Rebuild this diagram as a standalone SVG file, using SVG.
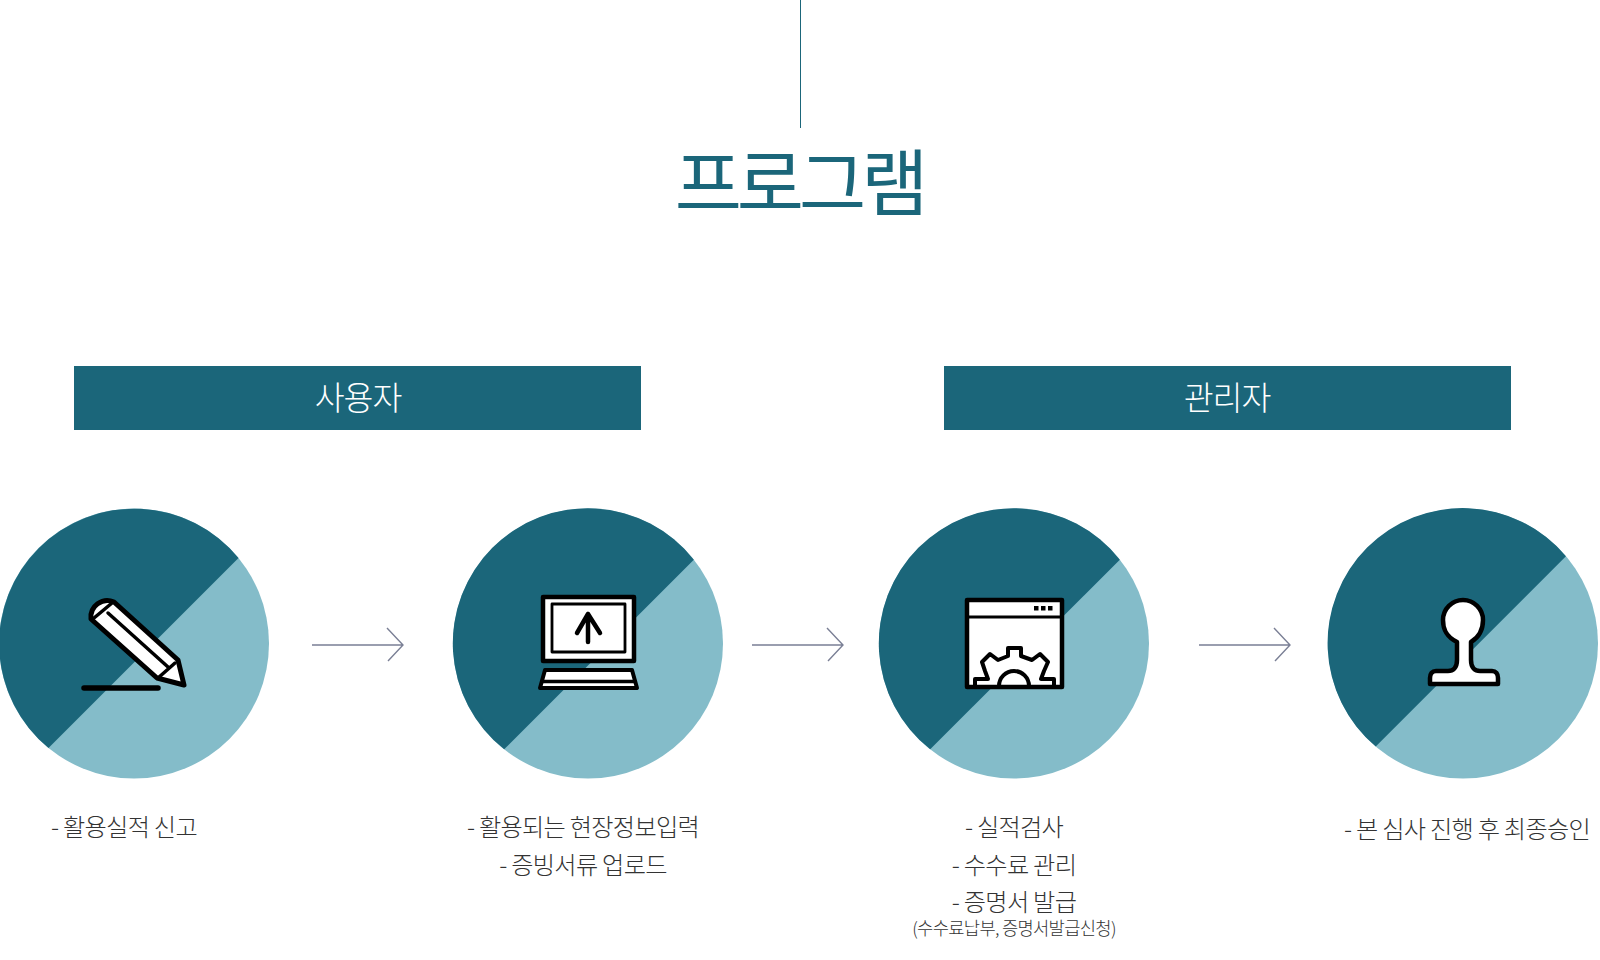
<svg xmlns="http://www.w3.org/2000/svg" width="1600" height="960" viewBox="0 0 1600 960">
<style>
text{font-family:"Noto Sans CJK KR","Noto Sans",sans-serif;text-anchor:middle}
.t{font-size:24.200px;font-weight:300;fill:#333;letter-spacing:-.7px}
.s{font-size:17.700px;font-weight:300;fill:#333;letter-spacing:-.7px}
.h{font-size:32.500px;font-weight:300;fill:#fff;letter-spacing:-1px}
.bar{fill:#1b667a}
.l{fill:#84bcc9}.d{fill:#1b667a}
.i{fill:#fff;stroke:#000;stroke-width:4.500;stroke-linejoin:round;stroke-linecap:round}
.n{fill:none;stroke:#000;stroke-linecap:round;stroke-linejoin:round}
.a{fill:none;stroke:#7a7f95;stroke-width:1.400}
</style>
<rect width="1600" height="960" fill="#fff"/>
<line x1="800.500" y1="0" x2="800.500" y2="128" stroke="#1b667a" stroke-width="1"/>
<text id="title" x="799" y="210" font-size="73" font-weight="400" fill="#1b667a" letter-spacing="-5">프로그램</text>
<g id="bar-user"><rect class="bar" x="74" y="366" width="567" height="64"/><text class="h" x="358" y="410">사용자</text></g>
<g id="bar-admin"><rect class="bar" x="944" y="366" width="567" height="64"/><text class="h" x="1227" y="410">관리자</text></g>
<g id="node1">
<circle class="l" cx="134" cy="643.500" r="135"/>
<path class="d" d="M238.500 558A135 135 0 1 0 48.500 748Z"/>
<path class="i" style="stroke-width:5" d="M114 602L178 660L184 685L157 678L91 619A16.500 16.500 0 0 1 114 602Z"/>
<path class="n" stroke-width="3.500" d="M94 618L112 603M108 613L168 667M175 663L158 678"/>
<line x1="84" y1="688" x2="158" y2="688" class="n" stroke-width="5.500"/>
<text class="t" x="124" y="836">- 활용실적 신고</text>
</g>
<g id="node2">
<circle class="l" cx="588" cy="643.500" r="135"/>
<path class="d" d="M693.800 559.700A135 135 0 1 0 504.200 749.300Z"/>
<rect class="i" x="543" y="597" width="91" height="64"/>
<rect class="i" x="552" y="604" width="73" height="48" style="stroke-width:2.800"/>
<path class="n" stroke-width="4.500" d="M588 642V614M577 633L588 614L600 633"/>
<path class="i" style="stroke-width:4" d="M545 670H632L637 688H540Z"/>
<line x1="542" y1="681.500" x2="635" y2="681.500" class="n" stroke-width="3.500"/>
<text class="t" x="583" y="836">- 활용되는 현장정보입력</text>
<text class="t" x="583" y="874">- 증빙서류 업로드</text>
</g>
<g id="node3">
<circle class="l" cx="1014" cy="643.500" r="135"/>
<path class="d" d="M1119.800 559.700A135 135 0 1 0 930.200 749.300Z"/>
<rect class="i" x="967" y="600" width="95" height="87"/>
<line x1="967" y1="617" x2="1062" y2="617" class="n" stroke-width="2.800"/>
<path fill="#000" d="M1034 606h4.500v4.500h-4.500zM1041 606h4.500v4.500h-4.500zM1048 606h4.500v4.500h-4.500z"/>
<path class="n" stroke-width="4" d="M975 686V679H988L985 671L982 662L990 654L998 660L1008 656V648H1021V656L1032 660L1040 654L1048 662L1044 671L1041 679H1054V686M999 686A15 15 0 0 1 1029 686"/>
<text class="t" x="1014" y="836">- 실적검사</text>
<text class="t" x="1014" y="874">- 수수료 관리</text>
<text class="t" x="1014" y="911">- 증명서 발급</text>
<text class="s" x="1014" y="935">(수수료납부, 증명서발급신청)</text>
</g>
<g id="node4">
<circle class="l" cx="1463" cy="643.500" r="135"/>
<path class="d" d="M1565.950 556.250A135 135 0 1 0 1375.750 746.450Z"/>
<path class="i" d="M1457 642C1445 636 1443 628 1443 620A20 20 0 0 1 1483 620C1483 628 1481 636 1471 642V660C1471 668 1475 671 1480 671H1492C1496 671 1498 674 1498 678V684H1430V678C1430 674 1432 671 1436 671H1448C1453 671 1457 668 1457 660Z"/>
<text class="t" x="1467" y="838">- 본 심사 진행 후 최종승인</text>
</g>
<g id="connectors">
<path class="a" d="M312 645H403M387 628L403 645L388 661"/>
<path class="a" d="M752 645H843M827 628L843 645L828 661"/>
<path class="a" d="M1199 645H1290M1274 628L1290 645L1275 661"/>
</g>
</svg>
